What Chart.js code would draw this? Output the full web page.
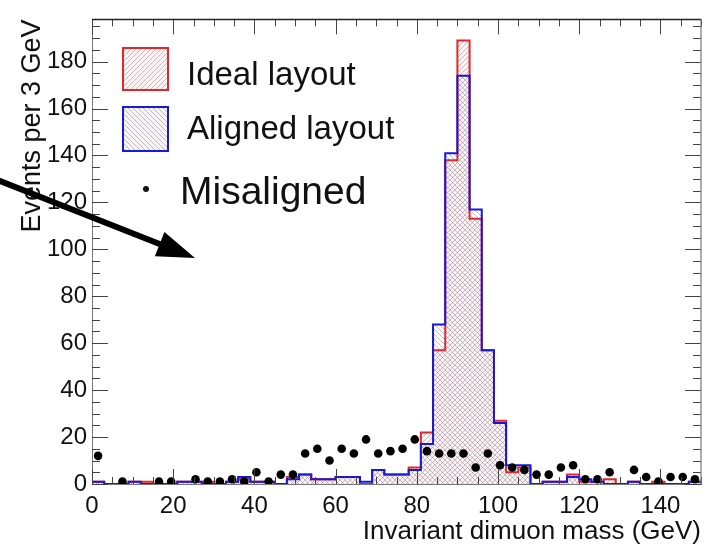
<!DOCTYPE html>
<html><head><meta charset="utf-8">
<script src="https://cdn.jsdelivr.net/npm/chart.js@4.4.1/dist/chart.umd.min.js"></script>
<style>html,body{margin:0;padding:0;background:#fff;}#wrap{width:713px;height:547px;}</style>
</head><body><div id="wrap"><canvas id="c" width="713" height="547"></canvas></div>
<script>
// ---- data ----
const binLow = [0,3,6,9,12,15,18,21,24,27,30,33,36,39,42,45,48,51,54,57,60,63,66,69,72,75,78,81,84,87,90,93,96,99,102,105,108,111,114,117,120,123,126,129,132,135,138,141,144,147];
const binCenter = [1.5,4.5,7.5,10.5,13.5,16.5,19.5,22.5,25.5,28.5,31.5,34.5,37.5,40.5,43.5,46.5,49.5,52.5,55.5,58.5,61.5,64.5,67.5,70.5,73.5,76.5,79.5,82.5,85.5,88.5,91.5,94.5,97.5,100.5,103.5,106.5,109.5,112.5,115.5,118.5,121.5,124.5,127.5,130.5,133.5,136.5,139.5,142.5,145.5,148.5];
const xMax = 150;
const ideal =      [1,0,0,1,1,0,0,1,1,1,0,1,2,1,1,0,3,4,2,2,3,3,0,6,4,4,7,22,57,138,189,113,57,27,5,7,0,1,1,4,1,1,2,0,1,0,1,0,0,1];
const aligned =    [1,0,0,1,0,0,0,1,1,0,0,1,3,1,1,0,2,4,2,2,3,3,1,6,4,4,6,17,68,141,174,117,57,26,8,8,0,1,1,3,2,1,0,0,1,0,0,0,0,1];
const misaligned = [12,0,1,0,0,1,1,0,2,1,1,2,1,5,1,4,4,13,15,10,15,13,19,13,14,15,19,14,13,13,13,7,13,8,7,6,4,4,7,8,2,2,5,0,6,3,1,3,3,2];
const xTicks = [0,20,40,60,80,100,120,140];
const yTicks = [0,20,40,60,80,100,120,140,160,180];
const yMax = 198;
const legendLabels = ['Ideal layout','Aligned layout','Misaligned'];
const FONT = "'Liberation Sans', Arial, Helvetica, sans-serif";

function histPoints(vals){
  const pts = binLow.map((x,i)=>({x:x, y:vals[i]}));
  pts.push({x:xMax, y:vals[vals.length-1]});
  return pts;
}
function dotPoints(vals){
  const pts=[];
  vals.forEach((v,i)=>{ if(v>0) pts.push({x:binCenter[i], y:v}); });
  return pts;
}
function makePattern(color, dir, bg){
  const s=5, c=document.createElement('canvas'); c.width=s; c.height=s;
  const g=c.getContext('2d');
  if(bg){g.fillStyle=bg; g.fillRect(0,0,s,s);}
  g.strokeStyle=color; g.lineWidth=1;
  g.beginPath();
  if(dir>0){ g.moveTo(0,s); g.lineTo(s,0); g.moveTo(-1,1); g.lineTo(1,-1); g.moveTo(s-1,s+1); g.lineTo(s+1,s-1); }
  else { g.moveTo(0,0); g.lineTo(s,s); g.moveTo(-1,s-1); g.lineTo(1,s+1); g.moveTo(s-1,-1); g.lineTo(s+1,1); }
  g.stroke();
  return document.getElementById('c').getContext('2d').createPattern(c,'repeat');
}
const redPat = makePattern('rgba(190,140,150,0.6)', 1, 'rgba(249,244,244,1)');
const bluePat = makePattern('rgba(120,110,140,0.45)', -1, null);
const RED='#e3262c', BLUE='#1818d8';

const decorPlugin = {
  id:'decor',
  afterDatasetsDraw(chart){
    const ctx=chart.ctx, a=chart.chartArea, xs=chart.scales.x, ys=chart.scales.y;
    ctx.save();
    ctx.lineWidth=1; ctx.strokeStyle='#444';
    ctx.beginPath();
    for(let v=0; v<=xMax; v+=5){
      const px=Math.round(xs.getPixelForValue(v))+0.5, len=(v%20===0)?15:7;
      ctx.moveTo(px,a.bottom); ctx.lineTo(px,a.bottom-len);
      ctx.moveTo(px,a.top); ctx.lineTo(px,a.top+len);
    }
    for(let v=0; v<=yMax; v+=5){
      const py=Math.round(ys.getPixelForValue(v))+0.5, len=(v%20===0)?16:8;
      ctx.moveTo(a.left,py); ctx.lineTo(a.left+len,py);
      ctx.moveTo(a.right,py); ctx.lineTo(a.right-len,py);
    }
    ctx.stroke();
    ctx.strokeStyle='#222'; ctx.lineWidth=1.5;
    ctx.beginPath(); ctx.moveTo(a.left,a.top); ctx.lineTo(a.right,a.top); ctx.stroke();
    ctx.strokeStyle='#777'; ctx.lineWidth=1.2;
    ctx.beginPath(); ctx.moveTo(a.right,a.top); ctx.lineTo(a.right,a.bottom); ctx.stroke();
    ctx.restore();
  },
  afterDraw(chart){
    const ctx=chart.ctx;
    ctx.save();
    // legend
    ctx.fillStyle=redPat; ctx.fillRect(123,48,45,42);
    ctx.strokeStyle=RED; ctx.lineWidth=2; ctx.strokeRect(123,48,45,42);
    ctx.fillStyle='rgba(249,244,244,1)'; ctx.fillRect(123,107,45,44);
    ctx.fillStyle=bluePat; ctx.fillRect(123,107,45,44);
    ctx.strokeStyle=BLUE; ctx.strokeRect(123,107,45,44);
    ctx.fillStyle='#111'; ctx.textBaseline='alphabetic'; ctx.textAlign='left';
    ctx.font='33px '+FONT;
    ctx.fillText(legendLabels[0],187,85);
    ctx.fillText(legendLabels[1],187,139);
    ctx.font='39px '+FONT;
    ctx.fillText(legendLabels[2],180,204);
    ctx.beginPath(); ctx.arc(146,189,3,0,Math.PI*2); ctx.fill();
    // arrow
    const x0=0,y0=181,x1=195,y1=258;
    const ang=Math.atan2(y1-y0,x1-x0), hl=38, hw=13;
    const bx=x1-hl*Math.cos(ang), by=y1-hl*Math.sin(ang);
    ctx.strokeStyle='#000'; ctx.lineWidth=6;
    ctx.beginPath(); ctx.moveTo(x0-5,y0-5*Math.tan(ang)); ctx.lineTo(bx+2*Math.cos(ang),by+2*Math.sin(ang)); ctx.stroke();
    ctx.fillStyle='#000';
    ctx.beginPath(); ctx.moveTo(x1,y1);
    ctx.lineTo(bx+hw*Math.sin(ang), by-hw*Math.cos(ang));
    ctx.lineTo(bx-hw*Math.sin(ang), by+hw*Math.cos(ang));
    ctx.closePath(); ctx.fill();
    ctx.restore();
  }
};

new Chart(document.getElementById('c'), {
  type:'scatter',
  data:{ datasets:[
    {label:legendLabels[0], data:histPoints(ideal), showLine:true, stepped:'before', borderColor:RED, borderWidth:2,
     backgroundColor:redPat, fill:'origin', pointRadius:0, borderJoinStyle:'miter', order:3},
    {label:legendLabels[1], data:histPoints(aligned), showLine:true, stepped:'before', borderColor:BLUE, borderWidth:2,
     backgroundColor:bluePat, fill:'origin', pointRadius:0, borderJoinStyle:'miter', order:2},
    {label:legendLabels[2], data:dotPoints(misaligned), showLine:false, pointRadius:4.3, pointBackgroundColor:'#000',
     pointBorderColor:'#000', pointBorderWidth:0, order:1}
  ]},
  options:{
    responsive:false, animation:false, events:[],
    layout:{padding:{top:8,right:12,left:0,bottom:0}},
    plugins:{legend:{display:false}, tooltip:{enabled:false}},
    scales:{
      x:{type:'linear', min:0, max:xMax, grid:{display:false, drawTicks:false, tickLength:0}, border:{display:true,color:'#777',width:1},
         afterBuildTicks:s=>{s.ticks=xTicks.map(v=>({value:v}));},
         afterFit:s=>{s.height=63;},
         ticks:{padding:8, autoSkip:false, maxRotation:0, color:'#111', font:{size:24,family:FONT}},
         title:{display:true, text:'Invariant dimuon mass (GeV)', align:'end', color:'#111', padding:0, font:{size:26,family:FONT}}},
      y:{type:'linear', min:0, max:yMax, grid:{display:false, drawTicks:false, tickLength:0}, border:{display:true,color:'#777',width:1},
         afterBuildTicks:s=>{s.ticks=yTicks.map(v=>({value:v}));},
         afterFit:s=>{s.width=92;},
         ticks:{padding:5, autoSkip:false, color:'#111', font:{size:24,family:FONT}},
         title:{display:true, text:'Events per 3 GeV', align:'end', color:'#111', padding:{top:16,bottom:0}, font:{size:27,family:FONT}}}
    }
  },
  plugins:[decorPlugin]
});
</script></body></html>
